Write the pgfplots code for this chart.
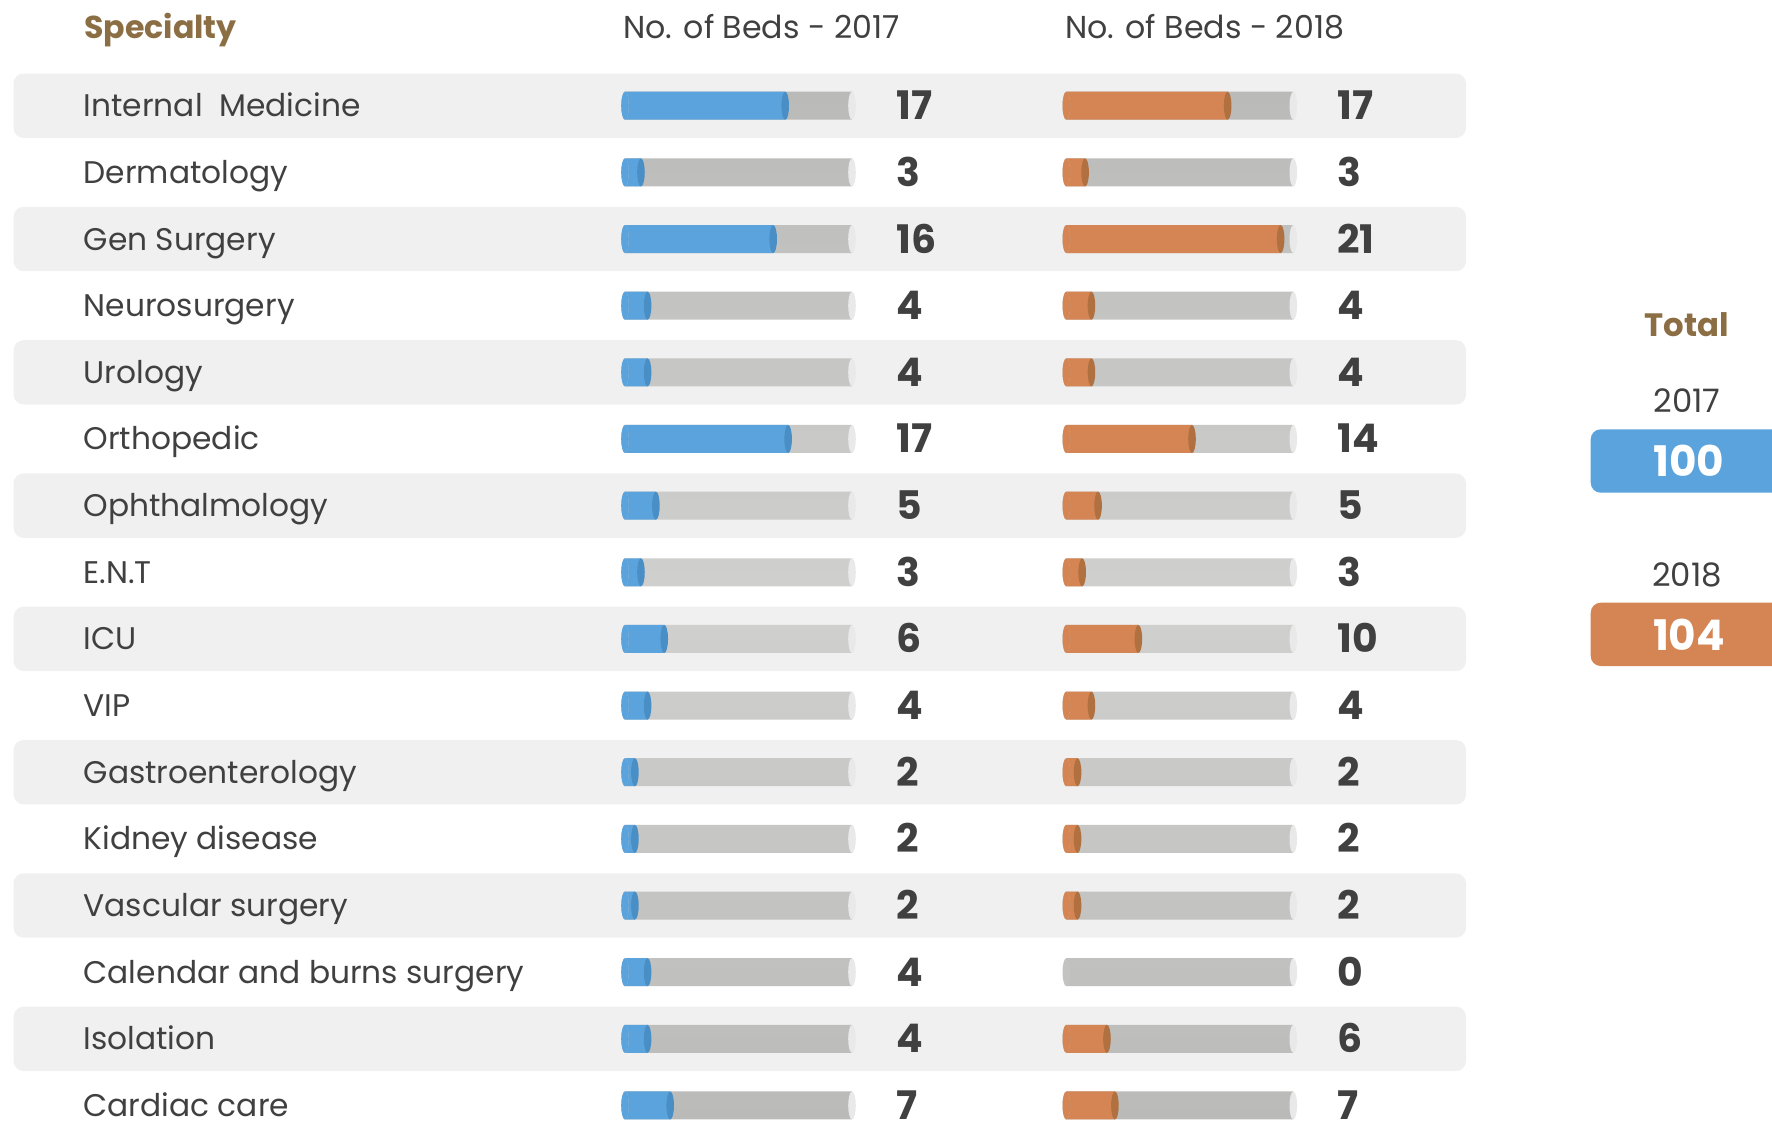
\documentclass[border=0pt]{standalone}
\usepackage{pgfplots}
\pgfplotsset{compat=1.18}
\usepackage{pgfplotstable}
\usepackage{fontspec}
\setmainfont{Poppins}

\definecolor{blueb}{HTML}{5BA3DC}
\definecolor{bluecap}{HTML}{4A8EC6}
\definecolor{orangeb}{HTML}{D48553}
\definecolor{orangecap}{HTML}{B0703F}
\definecolor{trackmid}{HTML}{D0D0CE}
\definecolor{trackedge}{HTML}{BABAB9}
\definecolor{trackcap}{HTML}{E9E9E9}
\definecolor{rowbg}{HTML}{F0F0F0}
\definecolor{txt}{HTML}{404040}
\definecolor{gold}{HTML}{8C6E44}

\newcommand\labelfont{\fontsize{8.9}{10}\selectfont}
\newcommand\numfont{\fontsize{11.2}{12}\selectfont\bfseries}
\newcommand\headfont{\fontsize{9}{10}\selectfont}

% flat ellipse drawn at the ends of the bars
\pgfdeclareplotmark{cap}{%
  \pgfpathellipse{\pgfpointorigin}
    {\pgfqpoint{0.27\pgfplotmarksize}{0pt}}
    {\pgfqpoint{0pt}{\pgfplotmarksize}}%
  \pgfusepathqfill}

% beds per specialty (b17, b18 = printed numbers);
% len17, len18 = bar lengths as drawn, on a grey track of 24
\pgfplotstableread[col sep=comma]{
row,name,b17,b18,len17,len18,track
0,Internal~~Medicine,17,17,16.94,17.06,24
1,Dermatology,3,3,1.69,1.99,24
2,Gen Surgery,16,21,15.67,22.66,24
3,Neurosurgery,4,4,2.39,2.66,24
4,Urology,4,4,2.39,2.66,24
5,Orthopedic,17,14,17.25,13.29,24
6,Ophthalmology,5,5,3.27,3.36,24
7,E.N.T,3,3,1.69,1.68,24
8,ICU,6,10,4.15,7.62,24
9,VIP,4,4,2.39,2.66,24
10,Gastroenterology,2,2,1.05,1.19,24
11,Kidney disease,2,2,1.05,1.19,24
12,Vascular surgery,2,2,1.05,1.19,24
13,Calendar and burns surgery,4,0,2.39,0,24
14,Isolation,4,6,2.39,4.30,24
15,Cardiac care,7,7,4.78,5.14,24
}\beds

\pgfplotsset{
  bedcol/.style={
    scale only axis, width=2.27cm, height=10.664cm,
    xmin=0, xmax=24, ymin=-0.5, ymax=15.5, y dir=reverse,
    clip=false, axis line style={draw=none}, tick style={draw=none},
    xtick=\empty, ytick=\empty, mark size=1.4mm,
  },
  track/.style={xbar, bar shift=0pt, bar width=0.28cm, draw=none,
    top color=trackedge, bottom color=trackedge, middle color=trackmid,
    nodes near coords, point meta=explicit symbolic,
    every node near coord/.append style={anchor=base west, inner sep=0pt,
      xshift=4.35mm, yshift=-1.4mm, font=\numfont, text=txt}},
  value/.style={xbar, bar shift=0pt, bar width=0.28cm, draw=none, fill=#1},
}

\begin{document}
\begin{tikzpicture}
% whole picture in pixel units: rows, headers and the totals panel
\begin{axis}[
  name=main, at={(8.86cm,5.61cm)}, anchor=center,
  scale only axis, width=17.72cm, height=11.22cm,
  xmin=0, xmax=1772, ymin=0, ymax=1122, y dir=reverse,
  hide axis, clip=false]
  \pgfplotsinvokeforeach{0,2,...,14}{
    \fill[rowbg, rounded corners=1mm]
      (axis cs:13.6,{105.7+66.65*#1-32.2}) rectangle (axis cs:1466,{105.7+66.65*#1+32.2});
  }
  \node[anchor=base west, inner sep=0pt, font=\headfont\bfseries, text=gold] at (axis cs:83.6,38) {Specialty};
  \node[anchor=base west, inner sep=0pt, font=\headfont, text=txt] at (axis cs:622.7,38) {No. of Beds - 2017};
  \node[anchor=base west, inner sep=0pt, font=\headfont, text=txt] at (axis cs:1064.6,38) {No. of Beds - 2018};

  \node[anchor=base, inner sep=0pt, font=\fontsize{9.2}{11}\selectfont\bfseries, text=gold] at (axis cs:1687,336) {Total};
  \node[anchor=base, inner sep=0pt, font=\fontsize{9.2}{11}\selectfont, text=txt] at (axis cs:1687,412.7) {2017};
  \fill[blueb, rounded corners=1mm] (axis cs:1590.7,429.3) rectangle (axis cs:1800,492.7);
  \node[anchor=base, inner sep=0pt, font=\fontsize{12}{14}\selectfont\bfseries, text=white] at (axis cs:1689,476) {100};
  \node[anchor=base, inner sep=0pt, font=\fontsize{9.2}{11}\selectfont, text=txt] at (axis cs:1687,586) {2018};
  \fill[orangeb, rounded corners=1mm] (axis cs:1590.7,602.7) rectangle (axis cs:1800,666);
  \node[anchor=base, inner sep=0pt, font=\fontsize{12}{14}\selectfont\bfseries, text=white] at (axis cs:1689,650.7) {104};

  \coordinate (c17) at (axis cs:738.5,605.6);
  \coordinate (c18) at (axis cs:1179.8,605.6);
\end{axis}

% 2017 column, carries the specialty names as tick labels
\begin{axis}[bedcol, at={(c17)}, anchor=center,
  ytick={0,...,15}, yticklabels from table={\beds}{name},
  yticklabel style={anchor=base west, inner sep=0pt, xshift=-5.42cm,
    yshift=-1.1mm, font=\labelfont, text=txt}]
  \addplot[only marks, mark=cap, trackedge!60!trackmid] table[x expr=0, y=row] {\beds};
  \addplot[track] table[x=track, y=row, meta=b17] {\beds};
  \addplot[only marks, mark=cap, trackcap] table[x=track, y=row] {\beds};
  \addplot[value=blueb] table[x=len17, y=row] {\beds};
  \addplot[only marks, mark=cap, blueb] table[x expr=0, y=row] {\beds};
  \addplot[only marks, mark=cap, bluecap, restrict x to domain=0.5:30] table[x=len17, y=row] {\beds};
\end{axis}

% 2018 column
\begin{axis}[bedcol, at={(c18)}, anchor=center]
  \addplot[only marks, mark=cap, trackedge!60!trackmid] table[x expr=0, y=row] {\beds};
  \addplot[track] table[x=track, y=row, meta=b18] {\beds};
  \addplot[only marks, mark=cap, trackcap] table[x=track, y=row] {\beds};
  \addplot[value=orangeb] table[x=len18, y=row] {\beds};
  \addplot[only marks, mark=cap, orangeb, skip coords between index={13}{14}] table[x expr=0, y=row] {\beds};
  \addplot[only marks, mark=cap, orangecap, restrict x to domain=0.5:30] table[x=len18, y=row] {\beds};
\end{axis}

\pgfresetboundingbox
\useasboundingbox (0,0) rectangle (17.72cm,11.22cm);
\end{tikzpicture}
\end{document}
